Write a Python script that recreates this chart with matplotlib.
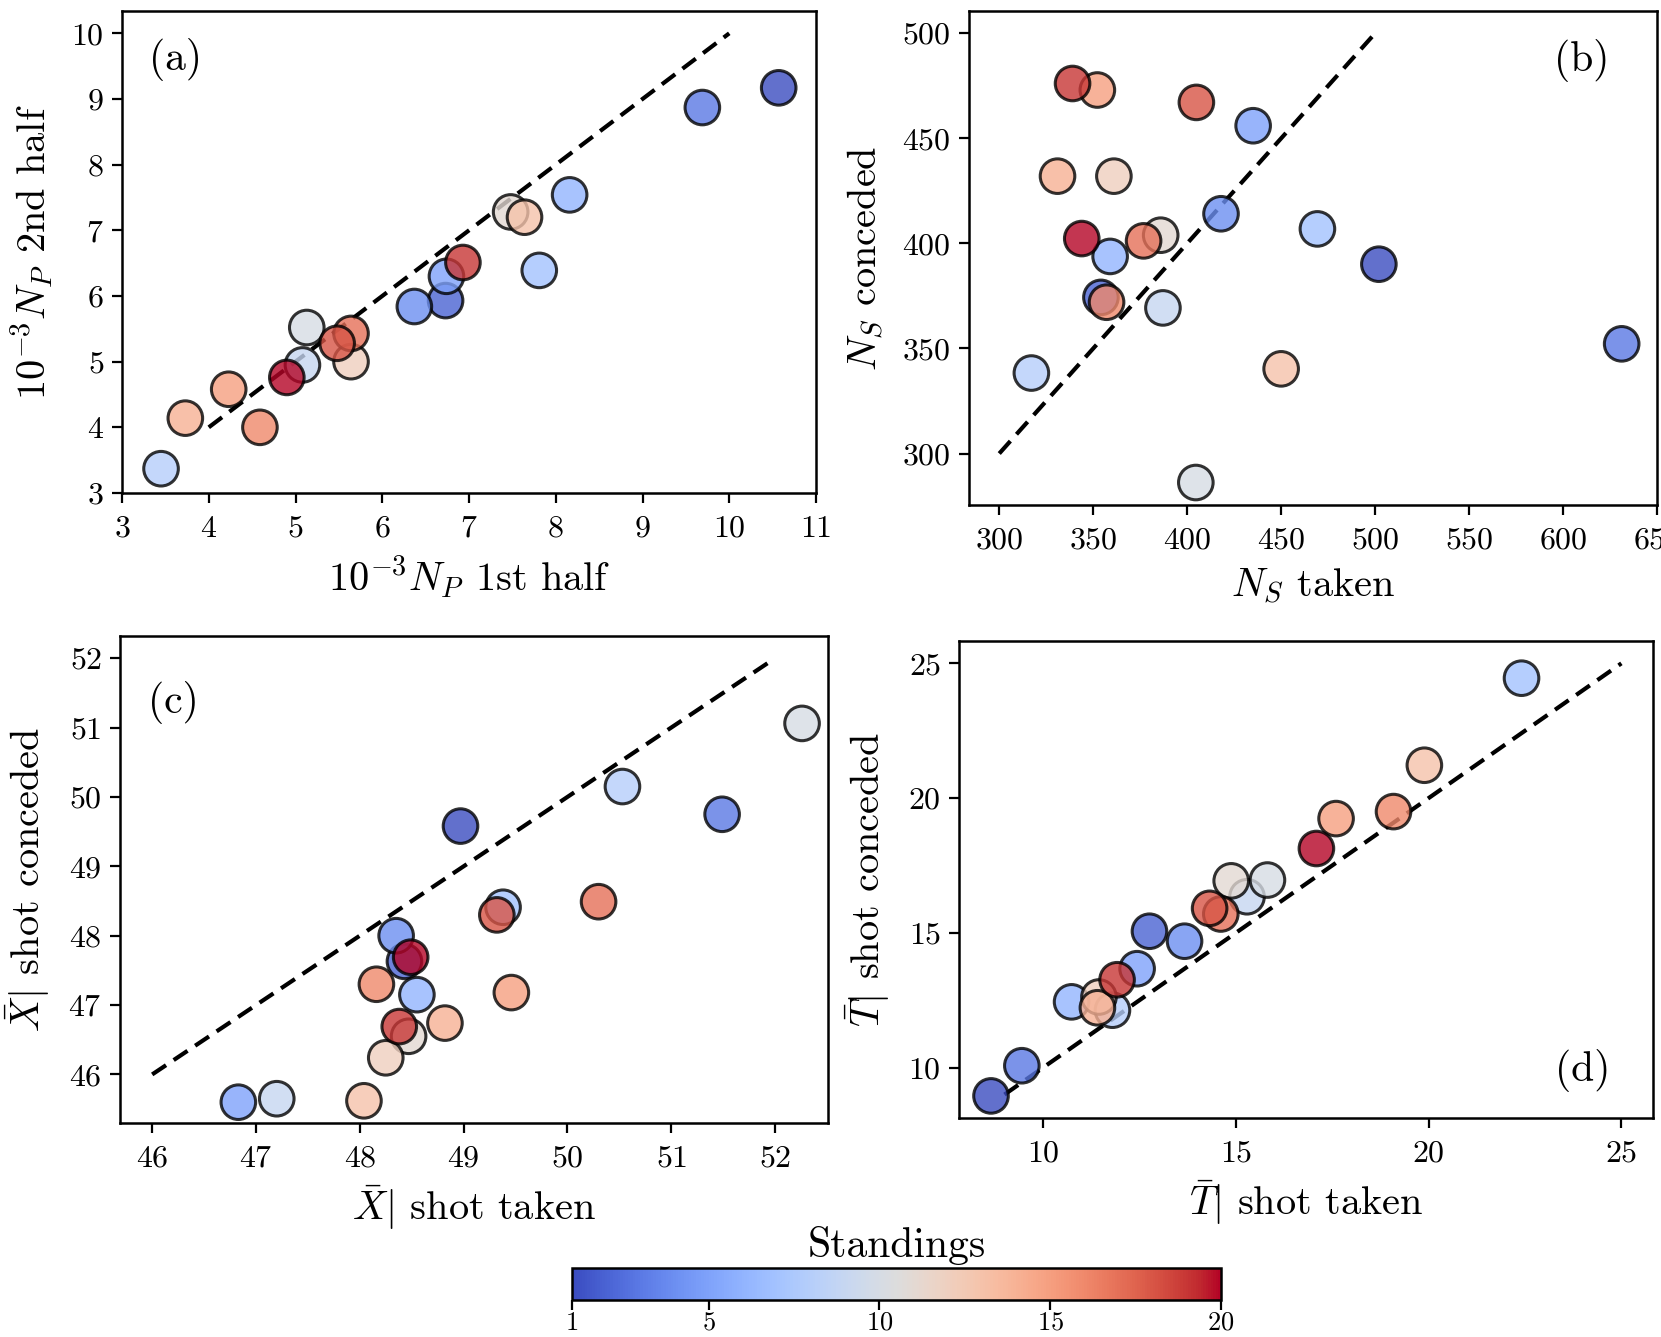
import numpy as np
import matplotlib
matplotlib.use("Agg")
import matplotlib.pyplot as plt
from matplotlib import cm, colors

plt.rcParams.update({
    "font.family": "serif",
    "font.serif": ["cmr10"],
    "mathtext.fontset": "cm",
    "axes.formatter.use_mathtext": True,
    "axes.unicode_minus": False,
})

standings = list(range(1, 21))

# (a) passes (x1000) first half vs second half
pa_first = [10.57, 6.73, 9.69, 6.37, 6.74, 8.16, 7.81, 3.45, 5.08, 5.13,
            7.48, 5.64, 7.64, 3.73, 4.23, 4.59, 5.64, 5.48, 6.93, 4.90]
pa_second = [9.17, 5.93, 8.87, 5.84, 6.30, 7.54, 6.39, 3.37, 4.95, 5.52,
             7.28, 5.00, 7.20, 4.14, 4.58, 4.00, 5.43, 5.28, 6.51, 4.76]

# (b) shots taken vs conceded
shots_taken = [502.0, 354.1, 631.2, 418.0, 435.1, 359.0, 469.3, 317.1, 387.1, 404.6,
               385.9, 361.0, 450.0, 331.0, 352.2, 357.1, 376.8, 404.9, 339.0, 343.9]
shots_conceded = [390.1, 374.3, 352.2, 414.1, 456.0, 393.8, 406.9, 338.3, 369.3, 286.2,
                  403.9, 432.0, 340.3, 432.0, 473.0, 372.0, 401.2, 467.1, 476.1, 402.3]

# (c) mean X at shot
x_taken = [48.97, 48.43, 51.49, 48.35, 46.83, 48.55, 49.38, 50.53, 47.20, 52.26,
           48.47, 48.25, 48.04, 48.82, 49.46, 48.16, 50.30, 49.32, 48.38, 48.49]
x_conceded = [49.58, 47.63, 49.75, 48.00, 45.60, 47.15, 48.41, 50.15, 45.65, 51.06,
              46.55, 46.24, 45.62, 46.74, 47.18, 47.30, 48.49, 48.30, 46.69, 47.69]

# (d) mean T at shot
t_taken = [8.65, 12.76, 9.45, 13.67, 12.44, 10.74, 22.41, 11.80, 15.29, 15.82,
           14.88, 11.45, 19.89, 11.41, 17.60, 19.09, 14.61, 14.32, 11.92, 17.09]
t_conceded = [8.95, 15.06, 10.07, 14.69, 13.67, 12.44, 24.45, 12.13, 16.34, 16.96,
              16.93, 12.62, 21.22, 12.22, 19.24, 19.50, 15.70, 15.91, 13.26, 18.13]

cbar_ticks = [1, 5, 10, 15, 20]

W, H = 1661, 1337
fig = plt.figure(figsize=(W / 100, H / 100), dpi=100)

def add_ax(l, t, r, b):
    return fig.add_axes([l / W, 1 - b / H, (r - l) / W, (b - t) / H])

axa = add_ax(122, 11, 816, 493)
axb = add_ax(969, 11, 1657, 505)
axc = add_ax(120, 636, 828, 1123)
axd = add_ax(959, 641, 1653, 1118)

cmap = plt.get_cmap("coolwarm")
norm = colors.Normalize(vmin=1, vmax=20)

sc_kw = dict(c=standings, cmap=cmap, norm=norm, s=620, alpha=0.8,
             edgecolors="black", linewidths=2.2, zorder=3)
line_kw = dict(color="black", ls="--", lw=3.0, dashes=(4, 2.2), zorder=2)

TICK = 23
LAB = 29
PAN = 30

# (a)
axa.plot([4, 10], [4, 10], **line_kw)
axa.scatter(pa_first, pa_second, **sc_kw)
axa.set_xlim(3, 11)
axa.set_ylim(3, 10.34)
axa.set_xticks(range(3, 12))
axa.set_yticks(range(3, 11))
axa.set_xlabel(r"$10^{-3}N_P$ 1st half", fontsize=LAB)
axa.set_ylabel(r"$10^{-3}N_P$ 2nd half", fontsize=LAB)
axa.text(0.077, 0.9, "(a)", transform=axa.transAxes, fontsize=PAN, ha="center", va="center")

# (b)
axb.plot([300, 500], [300, 500], **line_kw)
axb.scatter(shots_taken, shots_conceded, **sc_kw)
axb.set_xlim(283.9, 650)
axb.set_ylim(275.5, 510.6)
axb.set_xticks(range(300, 651, 50))
axb.set_yticks(range(300, 501, 50))
axb.set_xlabel(r"$N_S$ taken", fontsize=LAB)
axb.set_ylabel(r"$N_S$ conceded", fontsize=LAB)
axb.text(0.89, 0.9, "(b)", transform=axb.transAxes, fontsize=PAN, ha="center", va="center")

# (c)
axc.plot([46, 52], [46, 52], **line_kw)
axc.scatter(x_taken, x_conceded, **sc_kw)
axc.set_xlim(45.69, 52.51)
axc.set_ylim(45.30, 52.32)
axc.set_xticks(range(46, 53))
axc.set_yticks(range(46, 53))
axc.set_xlabel(r"$\bar{X}|$ shot taken", fontsize=LAB)
axc.set_ylabel(r"$\bar{X}|$ shot conceded", fontsize=LAB)
axc.text(0.075, 0.863, "(c)", transform=axc.transAxes, fontsize=PAN, ha="center", va="center")

# (d)
axd.plot([9, 25], [9, 25], **line_kw)
axd.scatter(t_taken, t_conceded, **sc_kw)
axd.set_xlim(7.82, 25.82)
axd.set_ylim(8.13, 25.83)
axd.set_xticks([10, 15, 20, 25])
axd.set_yticks([10, 15, 20, 25])
axd.set_xlabel(r"$\bar{T}|$ shot taken", fontsize=LAB)
axd.set_ylabel(r"$\bar{T}|$ shot conceded", fontsize=LAB)
axd.text(0.898, 0.1, "(d)", transform=axd.transAxes, fontsize=PAN, ha="center", va="center")

for ax in (axa, axb, axc, axd):
    ax.tick_params(labelsize=TICK, length=7, width=1.6, direction="out")
    ax.tick_params(axis="x", pad=9)
    ax.tick_params(axis="y", pad=6)
    ax.xaxis.labelpad = 8
    ax.yaxis.labelpad = 12
    for sp in ax.spines.values():
        sp.set_linewidth(1.8)

# colorbar
cax = add_ax(572, 1268, 1221, 1300)
sm = cm.ScalarMappable(norm=norm, cmap=cmap)
cb = fig.colorbar(sm, cax=cax, orientation="horizontal", ticks=cbar_ticks)
cb.ax.tick_params(labelsize=19, length=7, width=1.6, pad=1)
cb.outline.set_linewidth(1.8)
cax.set_title("Standings", fontsize=PAN, pad=8)

fig.savefig("out.png", dpi=100)
